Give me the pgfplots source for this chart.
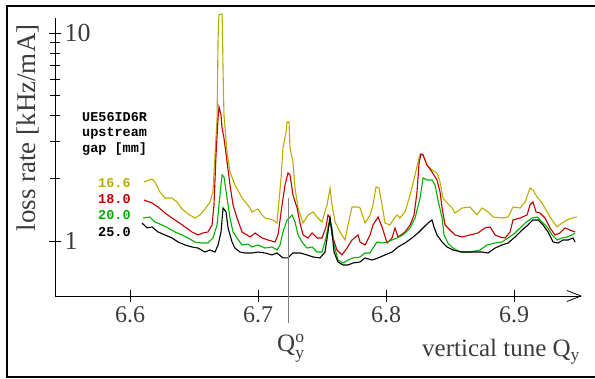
\documentclass[border=0pt]{standalone}
\usepackage{pgfplots}
\pgfplotsset{compat=1.18}
\usepackage{fontspec}
\setmainfont{Liberation Serif}
\setmonofont{Liberation Mono}
\usetikzlibrary{arrows.meta}
\definecolor{colA}{RGB}{184,174,0}
\definecolor{colB}{RGB}{192,0,0}
\definecolor{colC}{RGB}{0,176,0}
\definecolor{txt}{RGB}{60,60,60}
\begin{document}
\begin{tikzpicture}[x=1pt,y=1pt]
\useasboundingbox (0,0) rectangle (595,379);
\begin{axis}[
  at={(55pt,83pt)}, anchor=south west,
  scale only axis, width=527pt, height=278pt,
  xmin=6.5414, xmax=6.9531,
  ymode=log, ymin=0.5441, ymax=11.8,
  clip=false,
  axis lines=left,
  axis line style={line width=0.9pt},
  x axis line style={-{Straight Barb[length=14pt,width=11pt,line width=0.8pt]}},
  y axis line style={-},
  xtick={6.6,6.7,6.8,6.9},
  xticklabels={6.6,6.7,6.8,6.9},
  ytick={1,10},
  yticklabels={1,10},
  tick align=center,
  major tick length=12pt,
  minor tick length=10pt,
  tick style={black, line width=0.8pt},
  /pgf/number format/assume math mode=true,
  xticklabel style={font=\fontsize{24}{26}\selectfont, text=txt, inner sep=1pt, yshift=-3pt},
  yticklabel style={font=\fontsize{26}{28}\selectfont, text=txt, anchor=west, xshift=12pt},
  every axis plot/.append style={line width=1.1pt},
]
\addplot[colA] coordinates {
(6.6109,1.921) (6.6172,1.987) (6.6195,1.921) (6.6234,1.720) (6.6273,1.609)
(6.6328,1.609) (6.6367,1.540) (6.6406,1.425) (6.6453,1.348) (6.6508,1.290)
(6.6547,1.334) (6.6586,1.425) (6.6625,1.540) (6.6648,1.720) (6.6664,2.591)
(6.6680,3.902) (6.6688,9.46) (6.6695,12.21) (6.6719,12.34) (6.6722,10.57)
(6.6727,6.49) (6.6734,4.035) (6.6758,2.679) (6.6781,2.147) (6.6820,1.859)
(6.6875,1.609) (6.6938,1.441) (6.6953,1.379) (6.7000,1.425) (6.7031,1.334)
(6.7055,1.290) (6.7117,1.262) (6.7148,1.220) (6.7156,1.379) (6.7180,2.009)
(6.7195,2.800) (6.7219,3.342) (6.7227,3.734) (6.7242,3.734) (6.7250,2.800)
(6.7273,2.398) (6.7289,1.798) (6.7313,1.441) (6.7352,1.220) (6.7391,1.334)
(6.7430,1.379) (6.7461,1.304) (6.7500,1.234) (6.7539,1.490) (6.7563,1.798)
(6.7578,1.490) (6.7602,1.234) (6.7641,1.105) (6.7680,1.011) (6.7703,1.194)
(6.7734,1.457) (6.7781,1.457) (6.7797,1.441) (6.7836,1.220) (6.7875,1.334)
(6.7898,1.490) (6.7922,1.818) (6.7945,1.798) (6.7969,1.490) (6.7992,1.220)
(6.8031,1.194) (6.8055,1.262) (6.8086,1.334) (6.8109,1.290) (6.8148,1.379)
(6.8188,1.664) (6.8227,2.077) (6.8250,2.398) (6.8266,2.620) (6.8289,2.591)
(6.8320,2.319) (6.8359,2.194) (6.8398,2.123) (6.8422,1.921) (6.8445,1.609)
(6.8477,1.523) (6.8516,1.441) (6.8539,1.363) (6.8594,1.441) (6.8656,1.457)
(6.8711,1.334) (6.8750,1.441) (6.8797,1.379) (6.8836,1.304) (6.8906,1.290)
(6.8953,1.304) (6.8992,1.457) (6.9047,1.441) (6.9086,1.540) (6.9125,1.798)
(6.9148,1.759) (6.9180,1.627) (6.9219,1.523) (6.9258,1.379) (6.9297,1.262)
(6.9336,1.168) (6.9375,1.220) (6.9414,1.262) (6.9453,1.290) (6.9492,1.304)
};
\addplot[colB] coordinates {
(6.6109,1.574) (6.6172,1.523) (6.6219,1.457) (6.6273,1.363) (6.6328,1.290)
(6.6375,1.234) (6.6430,1.168) (6.6484,1.105) (6.6531,1.069) (6.6570,1.093)
(6.6609,1.105) (6.6641,1.194) (6.6656,1.490) (6.6672,2.591) (6.6688,3.902)
(6.6695,4.41) (6.6711,4.035) (6.6719,3.494) (6.6734,3.128) (6.6758,2.398)
(6.6781,1.859) (6.6805,1.490) (6.6836,1.290) (6.6875,1.105) (6.6914,1.069)
(6.6938,1.045) (6.6977,1.093) (6.7031,1.034) (6.7078,1.011) (6.7133,0.989)
(6.7156,1.069) (6.7188,1.490) (6.7211,1.859) (6.7234,2.123) (6.7250,2.077)
(6.7273,1.664) (6.7305,1.441) (6.7328,1.220) (6.7352,1.069) (6.7391,1.034)
(6.7422,1.093) (6.7461,1.034) (6.7500,1.034) (6.7531,1.168) (6.7547,1.334)
(6.7563,1.290) (6.7578,1.069) (6.7617,0.905) (6.7656,0.857) (6.7695,0.925)
(6.7734,1.011) (6.7781,1.069) (6.7797,0.989) (6.7836,0.957) (6.7875,1.069)
(6.7898,1.194) (6.7938,1.304) (6.7969,1.168) (6.8008,0.978) (6.8047,1.034)
(6.8070,1.155) (6.8094,1.045) (6.8148,1.105) (6.8188,1.194) (6.8219,1.334)
(6.8242,1.720) (6.8258,2.371) (6.8273,2.620) (6.8289,2.591) (6.8320,2.319)
(6.8359,2.147) (6.8398,1.965) (6.8422,1.720) (6.8438,1.441) (6.8461,1.194)
(6.8500,1.129) (6.8539,1.069) (6.8594,1.045) (6.8656,1.069) (6.8719,1.093)
(6.8773,1.155) (6.8813,1.168) (6.8852,1.069) (6.8891,1.045) (6.8930,1.034)
(6.8969,1.105) (6.8992,1.262) (6.9047,1.290) (6.9102,1.334) (6.9125,1.490)
(6.9148,1.540) (6.9172,1.379) (6.9203,1.363) (6.9242,1.290) (6.9281,1.155)
(6.9320,1.069) (6.9359,1.093) (6.9398,1.155) (6.9438,1.129) (6.9477,1.105)
};
\addplot[colC] coordinates {
(6.6102,1.290) (6.6156,1.304) (6.6195,1.234) (6.6250,1.194) (6.6297,1.155)
(6.6352,1.105) (6.6406,1.069) (6.6453,1.034) (6.6508,0.989) (6.6563,0.978)
(6.6609,0.978) (6.6648,1.034) (6.6680,1.194) (6.6695,1.490) (6.6719,2.077)
(6.6734,2.031) (6.6758,1.609) (6.6781,1.290) (6.6805,1.105) (6.6836,1.034)
(6.6875,0.957) (6.6922,0.967) (6.6953,0.936) (6.7000,0.957) (6.7055,0.925)
(6.7109,0.936) (6.7148,0.905) (6.7172,0.957) (6.7195,1.105) (6.7227,1.262)
(6.7266,1.334) (6.7289,1.234) (6.7313,1.069) (6.7344,0.989) (6.7383,0.925)
(6.7422,0.936) (6.7461,0.885) (6.7500,0.885) (6.7531,1.034) (6.7555,1.234)
(6.7578,1.155) (6.7594,0.957) (6.7625,0.810) (6.7664,0.784) (6.7703,0.810)
(6.7742,0.829) (6.7797,0.838) (6.7836,0.876) (6.7875,0.876) (6.7898,0.925)
(6.7930,0.989) (6.7969,0.978) (6.8008,0.989) (6.8047,1.011) (6.8086,1.034)
(6.8133,1.069) (6.8188,1.155) (6.8227,1.290) (6.8266,1.609) (6.8289,2.009)
(6.8320,1.965) (6.8359,1.965) (6.8383,1.859) (6.8406,1.574) (6.8438,1.290)
(6.8453,1.069) (6.8484,0.978) (6.8523,0.925) (6.8578,0.885) (6.8656,0.885)
(6.8734,0.905) (6.8789,0.957) (6.8852,0.978) (6.8906,0.989) (6.8953,1.034)
(6.9008,1.093) (6.9047,1.155) (6.9086,1.220) (6.9141,1.290) (6.9180,1.304)
(6.9219,1.234) (6.9258,1.168) (6.9297,1.069) (6.9336,1.011) (6.9375,1.034)
(6.9414,1.045) (6.9453,1.069) (6.9477,1.093)
};
\addplot[black] coordinates {
(6.6094,1.220) (6.6133,1.155) (6.6172,1.168) (6.6219,1.105) (6.6273,1.069)
(6.6328,1.034) (6.6375,0.989) (6.6430,0.957) (6.6484,0.936) (6.6531,0.925)
(6.6586,0.885) (6.6625,0.905) (6.6664,0.885) (6.6688,0.957) (6.6711,1.105)
(6.6727,1.441) (6.6750,1.379) (6.6766,1.155) (6.6797,0.989) (6.6820,0.925)
(6.6859,0.885) (6.6898,0.876) (6.6953,0.876) (6.7000,0.885) (6.7055,0.876)
(6.7109,0.857) (6.7148,0.876) (6.7195,0.829) (6.7234,0.829) (6.7273,0.876)
(6.7328,0.876) (6.7383,0.857) (6.7430,0.838) (6.7484,0.829) (6.7523,0.885)
(6.7547,1.105) (6.7563,1.290) (6.7578,1.105) (6.7594,0.885) (6.7625,0.793)
(6.7664,0.767) (6.7703,0.767) (6.7742,0.784) (6.7797,0.793) (6.7836,0.829)
(6.7891,0.810) (6.7938,0.829) (6.7992,0.857) (6.8047,0.885) (6.8094,0.936)
(6.8148,0.978) (6.8203,1.034) (6.8250,1.093) (6.8289,1.155) (6.8328,1.220)
(6.8359,1.262) (6.8375,1.168) (6.8398,1.069) (6.8438,0.989) (6.8477,0.936)
(6.8523,0.905) (6.8594,0.885) (6.8680,0.885) (6.8750,0.885) (6.8797,0.876)
(6.8852,0.925) (6.8906,0.957) (6.8953,0.978) (6.9008,1.045) (6.9063,1.129)
(6.9109,1.194) (6.9148,1.262) (6.9188,1.262) (6.9227,1.194) (6.9266,1.105)
(6.9305,0.989) (6.9344,0.978) (6.9383,1.011) (6.9422,1.011) (6.9461,1.034)
(6.9477,0.989)
};
\draw[gray, line width=1pt] (axis cs:6.7242,1.609) -- (axis cs:6.7242,0.4035);
\end{axis}
% frame
\draw[line width=2pt] (596,373) -- (7,373) -- (7,2) -- (596,2);
% labels
\node[rotate=90, font=\fontsize{27}{29}\selectfont, text=txt] at (28,251) {loss rate [kHz/mA]};
\node[anchor=base west, font=\fontsize{25}{27}\selectfont, text=txt, inner sep=0pt] at (422,22) {vertical tune Q$_\mathrm{y}$};
\node[anchor=base west, font=\fontsize{25}{27}\selectfont, text=txt, inner sep=0pt] at (277,27) {Q$_\mathrm{y}^\mathrm{o}$};
% legend text
\begin{scope}[every node/.style={anchor=west, inner sep=0pt, font=\ttfamily\bfseries\fontsize{13.5}{15}\selectfont}]
\node at (82,262) {UE56ID6R};
\node at (82,246) {upstream};
\node at (82,230) {gap [mm]};
\node[text=colA] at (98,196) {16.6};
\node[text=colB] at (98,180) {18.0};
\node[text=colC] at (98,164) {20.0};
\node[text=black] at (98,147) {25.0};
\end{scope}
\end{tikzpicture}
\end{document}
